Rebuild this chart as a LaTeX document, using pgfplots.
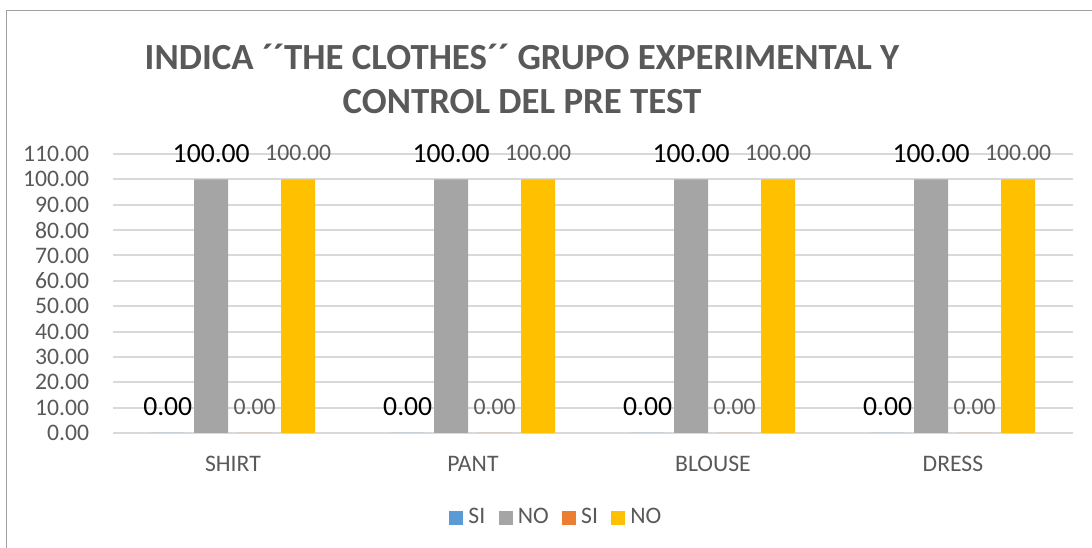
\documentclass[border=0pt]{standalone}
\usepackage{fontspec}
\setmainfont{Carlito}
\usepackage{pgfplots}
\usepackage{pgfplotstable}
\pgfplotsset{compat=1.18}
\definecolor{txtgray}{HTML}{595959}
\definecolor{gridgray}{HTML}{D9D9D9}
\definecolor{frame}{HTML}{A0A0A0}
\definecolor{siA}{HTML}{5B9BD5}
\definecolor{noA}{HTML}{A5A5A5}
\definecolor{siB}{HTML}{ED7D31}
\definecolor{noB}{HTML}{FFC000}

% datos en porcentaje
\pgfplotstableread{
x siA noA siB noB
0 0 100 0 100
1 0 100 0 100
2 0 100 0 100
3 0 100 0 100
}\datos

\begin{document}
\begin{tikzpicture}[x=0.38pt, y=0.38pt]
  \path[use as bounding box] (0,0) rectangle (1092,548);
  \draw[frame, line width=0.6pt] (6.5,0) -- (6.5,537.5) -- (1092,537.5);

  \node[font=\fontsize{14}{17}\selectfont\bfseries, text=txtgray, align=center]
    at (522,469) {INDICA ´´THE CLOTHES´´ GRUPO EXPERIMENTAL Y\\CONTROL DEL PRE TEST};

  \begin{axis}[
      at={(42.94pt,43.7pt)}, anchor=south west,
      scale only axis, width=364.8pt, height=106.02pt,
      ybar=3.61pt, bar width=12.92pt,
      xmin=-0.5, xmax=3.5, ymin=0, ymax=110,
      xtick={0,1,2,3}, xticklabels={SHIRT,PANT,BLOUSE,DRESS},
      ytick={0,10,...,110},
      axis line style={draw=none},
      major tick length=0pt,
      ymajorgrids, grid style={gridgray, line width=0.75pt},
      /pgf/number format/assume math mode=true,
      yticklabel style={font=\fontsize{9}{11}\selectfont, text=txtgray, xshift=-5.5pt,
        /pgf/number format/.cd, fixed, fixed zerofill, precision=2},
      xticklabel style={font=\fontsize{9}{11}\selectfont, text=txtgray, yshift=-5.3pt},
      legend columns=4,
      legend style={at={(0.4635,-0.305)}, anchor=center, draw=none, fill=none,
        font=\fontsize{9}{11}\selectfont, text=txtgray,
        /tikz/every even column/.append style={column sep=3pt}},
      legend image code/.code={\fill[#1, draw=none] (0pt,-2.66pt) rectangle (5.32pt,2.66pt);},
      nodes near coords={\pgfmathprintnumber[fixed,fixed zerofill,precision=2]{\pgfplotspointmeta}},
      nodes near coords align={center},
    ]
    \addplot[fill=siA, draw=none,
      every node near coord/.append style={font=\fontsize{10.5}{12}\selectfont, text=black, yshift=9.88pt}]
      table[x=x, y=siA] {\datos};
    \addlegendentry{SI}
    \addplot[fill=noA, draw=none,
      every node near coord/.append style={font=\fontsize{10.5}{12}\selectfont, text=black, yshift=9.88pt}]
      table[x=x, y=noA] {\datos};
    \addlegendentry{NO}
    \addplot[fill=siB, draw=none,
      every node near coord/.append style={font=\fontsize{9}{11}\selectfont, text=txtgray, yshift=9.88pt}]
      table[x=x, y=siB] {\datos};
    \addlegendentry{SI}
    \addplot[fill=noB, draw=none,
      every node near coord/.append style={font=\fontsize{9}{11}\selectfont, text=txtgray, yshift=9.88pt}]
      table[x=x, y=noB] {\datos};
    \addlegendentry{NO}
  \end{axis}
\end{tikzpicture}
\end{document}
